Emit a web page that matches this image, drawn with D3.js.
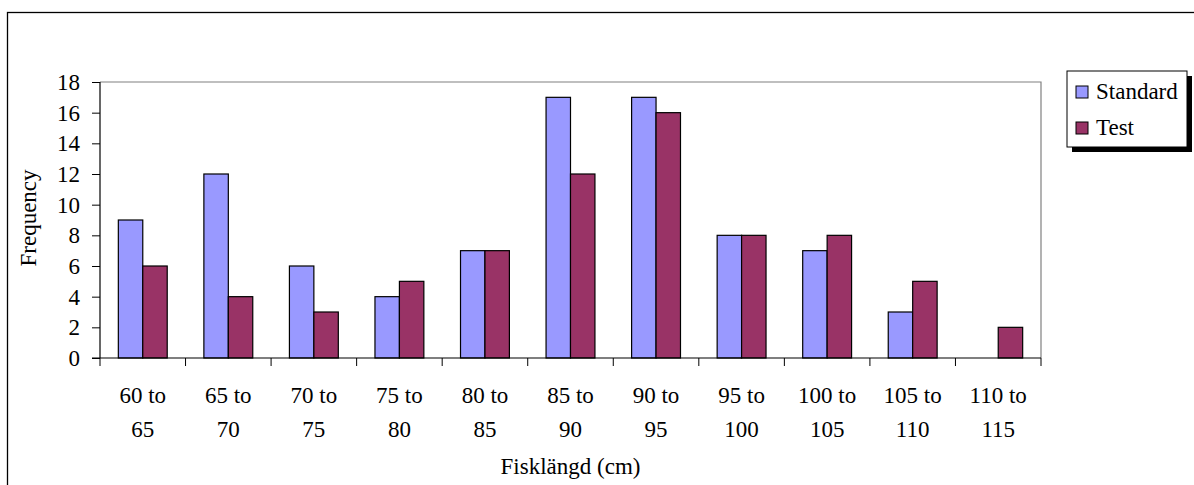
<!DOCTYPE html>
<html>
<head>
<meta charset="utf-8">
<script src="https://cdn.jsdelivr.net/npm/d3@7"></script>
<style>
  body { margin: 0; background: #fff; }
  svg { display: block; font-family: "Liberation Serif", "Times New Roman", serif; }
</style>
</head>
<body>
<div id="chart"></div>
<script>
const categories = ["60 to 65", "65 to 70", "70 to 75", "75 to 80", "80 to 85", "85 to 90",
                    "90 to 95", "95 to 100", "100 to 105", "105 to 110", "110 to 115"];
const standardValues = [9, 12, 6, 4, 7, 17, 17, 8, 7, 3, 0];
const testValues = [6, 4, 3, 5, 7, 12, 16, 8, 8, 5, 2];
const seriesNames = ["Standard", "Test"];
const seriesColors = ["#9999FF", "#993366"];
const yTicks = [0, 2, 4, 6, 8, 10, 12, 14, 16, 18];

const width = 1194, height = 485;
const plot = { left: 100, right: 1041, top: 82, bottom: 358 };
const fs = 23;

const svg = d3.select("#chart").append("svg")
  .attr("width", width).attr("height", height);

// outer chart frame (right & bottom edges fall outside the picture)
svg.append("rect")
  .attr("x", 7.5).attr("y", 12.5)
  .attr("width", width + 20).attr("height", height + 20)
  .attr("fill", "#fff").attr("stroke", "#000").attr("stroke-width", 1.3);

const x = d3.scaleBand().domain(categories).range([plot.left, plot.right]).padding(0);
const barW = x.bandwidth() / 3.5;
const xInner = d3.scaleBand().domain(seriesNames).range([0, barW * 2]);
const y = d3.scaleLinear().domain([0, 18]).range([plot.bottom, plot.top]);

// plot border (top & right)
svg.append("path")
  .attr("d", `M${plot.left},${plot.top}H${plot.right}V${plot.bottom}`)
  .attr("fill", "none").attr("stroke", "#808080").attr("stroke-width", 1.2);

// bars
const rows = categories.map((c, i) => ({ c, vals: [standardValues[i], testValues[i]] }));
const groups = svg.append("g").selectAll("g").data(rows).join("g")
  .attr("transform", d => `translate(${x(d.c) + (x.bandwidth() - barW * 2) / 2},0)`);
groups.selectAll("rect")
  .data(d => d.vals.map((v, k) => ({ v, k })).filter(e => e.v > 0))
  .join("rect")
  .attr("x", e => xInner(seriesNames[e.k]))
  .attr("y", e => y(e.v))
  .attr("width", xInner.bandwidth())
  .attr("height", e => y(0) - y(e.v))
  .attr("fill", e => seriesColors[e.k])
  .attr("stroke", "#000").attr("stroke-width", 1.2);

// y axis
const yAxis = svg.append("g")
  .attr("transform", `translate(${plot.left},0)`)
  .call(d3.axisLeft(y).tickValues(yTicks).tickSize(8).tickPadding(12));
yAxis.attr("font-family", null).attr("font-size", null);
yAxis.select(".domain").attr("stroke", "#000").attr("stroke-width", 1.2)
  .attr("d", `M0,${plot.top}V${plot.bottom}`);
yAxis.selectAll(".tick line").attr("stroke", "#000");
yAxis.selectAll("text").attr("font-size", fs).attr("fill", "#000");

// x axis: ticks at category boundaries
const xAxisG = svg.append("g").attr("transform", `translate(0,${plot.bottom})`);
xAxisG.append("line")
  .attr("x1", plot.left - 8).attr("x2", plot.right)
  .attr("stroke", "#000").attr("stroke-width", 1.2);
const bounds = categories.map(c => x(c)).concat([plot.right]);
xAxisG.selectAll("line.tk").data(bounds).join("line")
  .attr("class", "tk")
  .attr("x1", d => d).attr("x2", d => d)
  .attr("y1", 0).attr("y2", 8)
  .attr("stroke", "#000");
const xl = xAxisG.selectAll("text").data(categories).join("text")
  .attr("text-anchor", "middle")
  .attr("font-size", fs).attr("fill", "#000");
xl.each(function(d) {
  const parts = d.split(" to ");
  const t = d3.select(this);
  const cx = x(d) + x.bandwidth() / 2;
  t.append("tspan").attr("x", cx).attr("y", 45).text(parts[0] + " to");
  t.append("tspan").attr("x", cx).attr("y", 79).text(parts[1]);
});

// axis titles
svg.append("text")
  .attr("x", (plot.left + plot.right) / 2).attr("y", 474)
  .attr("text-anchor", "middle").attr("font-size", fs)
  .text("Fisklängd (cm)");
svg.append("text")
  .attr("transform", "translate(36,218) rotate(-90)")
  .attr("text-anchor", "middle").attr("font-size", fs)
  .text("Frequency");

// legend
const leg = svg.append("g").attr("transform", "translate(1067,71)");
leg.append("rect").attr("x", 5).attr("y", 5).attr("width", 120).attr("height", 76).attr("fill", "#000");
leg.append("rect").attr("x", 0).attr("y", 0).attr("width", 120).attr("height", 76)
  .attr("fill", "#fff").attr("stroke", "#000").attr("stroke-width", 1);
const li = leg.selectAll("g.item").data(seriesNames).join("g")
  .attr("class", "item")
  .attr("transform", (d, i) => `translate(9,${15 + i * 36})`);
li.append("rect").attr("width", 12).attr("height", 12)
  .attr("fill", (d, i) => seriesColors[i]).attr("stroke", "#000").attr("stroke-width", 1);
li.append("text").attr("x", 20).attr("y", 13).attr("font-size", fs).text(d => d);
</script>
</body>
</html>
